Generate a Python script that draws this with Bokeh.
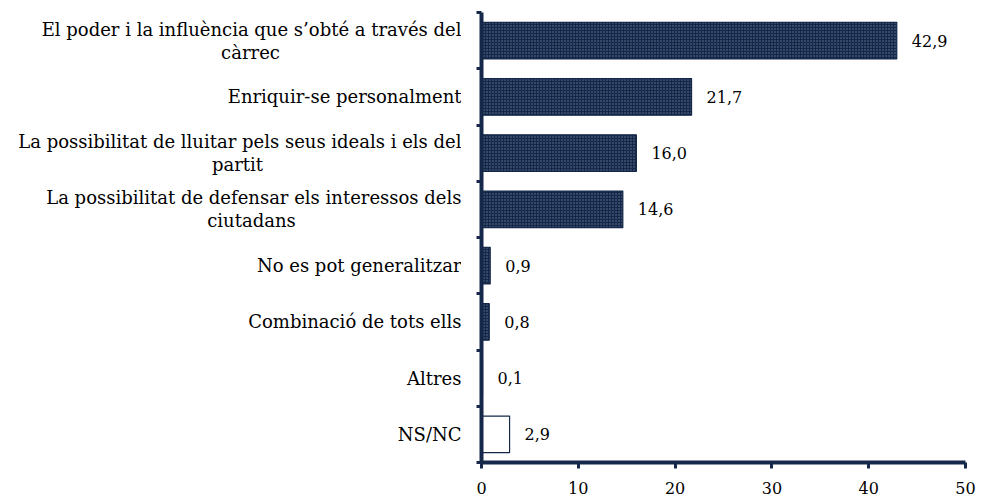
from bokeh.plotting import figure
from bokeh.models import Range1d, FixedTicker, ColumnDataSource
from bokeh.layouts import row
from bokeh.core.properties import value
from bokeh.embed import file_html
from bokeh.resources import INLINE

# ---- data ----
label_line1 = [
    "El poder i la influència que s’obté a través del",
    "Enriquir-se personalment",
    "La possibilitat de lluitar pels seus ideals i els del",
    "La possibilitat de defensar els interessos dels",
    "No es pot generalitzar",
    "Combinació de tots ells",
    "Altres",
    "NS/NC",
]
label_line2 = ["càrrec", "", "partit", "ciutadans", "", "", "", ""]
values = [42.9, 21.7, 16.0, 14.6, 0.9, 0.8, 0.1, 2.9]
x_ticks = [0, 10, 20, 30, 40, 50]

NAVY = "#15284a"
FONT = "DejaVu Serif"
TOP, BOTTOM, H = 12, 37, 499

n = len(values)
ypos = [i + 0.5 for i in range(n)]
labels = [f"{v:.1f}".replace(".", ",") for v in values]
fills = [NAVY] * (n - 1) + ["white"]
hatches = ["dot"] * (n - 1) + [" "]

# ---- main chart ----
p = figure(width=520, height=H, output_backend="svg", toolbar_location=None,
           x_range=Range1d(0, 50), y_range=Range1d(n, 0),
           min_border_left=20, min_border_right=16, min_border_top=TOP,
           min_border_bottom=BOTTOM)
p.outline_line_color = None
p.grid.grid_line_color = None

src = ColumnDataSource(dict(y=ypos, v=values, fill=fills, hatch=hatches, lab=labels))
p.hbar(y="y", right="v", left=0, height=0.65, source=src,
       fill_color="fill", line_color=NAVY, line_width=1.2,
       hatch_pattern="hatch", hatch_color="#7d8ca6", hatch_scale=3.0,
       hatch_weight=1.0, hatch_alpha=0.8)

p.text(x="v", y="y", text="lab", source=src, x_offset=15,
       text_baseline="middle", text_align="left",
       text_font=value(FONT), text_font_size="16px", text_color="black")

xa = p.xaxis[0]
xa.ticker = FixedTicker(ticks=x_ticks)
xa.axis_line_color = NAVY
xa.axis_line_width = 4
xa.major_tick_line_color = NAVY
xa.major_tick_line_width = 3
xa.major_tick_out = 6
xa.major_tick_in = 0
xa.minor_tick_line_color = None
xa.major_label_standoff = 13
xa.major_label_text_font = FONT
xa.major_label_text_font_size = "16px"
xa.major_label_text_color = "black"

ya = p.yaxis[0]
ya.ticker = FixedTicker(ticks=list(range(n + 1)))
ya.axis_line_color = NAVY
ya.axis_line_width = 4
ya.major_tick_line_color = NAVY
ya.major_tick_line_width = 3
ya.major_tick_out = 5
ya.major_tick_in = 0
ya.minor_tick_line_color = None
ya.major_label_text_font_size = "0px"
ya.major_label_text_color = None

# ---- category labels panel ----
LW = 461
q = figure(width=LW, height=H, output_backend="svg", toolbar_location=None,
           x_range=Range1d(0, LW), y_range=Range1d(n, 0),
           min_border_left=0, min_border_right=0, min_border_top=TOP,
           min_border_bottom=BOTTOM)
q.outline_line_color = None
q.grid.grid_line_color = None
q.axis.visible = False

one = [i for i in range(n) if not label_line2[i]]
two = [i for i in range(n) if label_line2[i]]
right_edge = LW
q.text(x=[right_edge] * len(one), y=[ypos[i] for i in one],
       text=[label_line1[i] for i in one],
       text_align="right", text_baseline="middle",
       text_font=value(FONT), text_font_size="18px", text_color="black")
q.text(x=[right_edge] * len(two), y=[ypos[i] for i in two],
       text=[label_line1[i] for i in two], y_offset=-11.5,
       text_align="right", text_baseline="middle",
       text_font=value(FONT), text_font_size="18px", text_color="black")
centers2 = [250, 237, 251]
q.text(x=centers2, y=[ypos[i] for i in two],
       text=[label_line2[i] for i in two], y_offset=11.5,
       text_align="center", text_baseline="middle",
       text_font=value(FONT), text_font_size="18px", text_color="black")

layout = row(q, p)
open("out.html", "w").write(file_html(layout, INLINE))
